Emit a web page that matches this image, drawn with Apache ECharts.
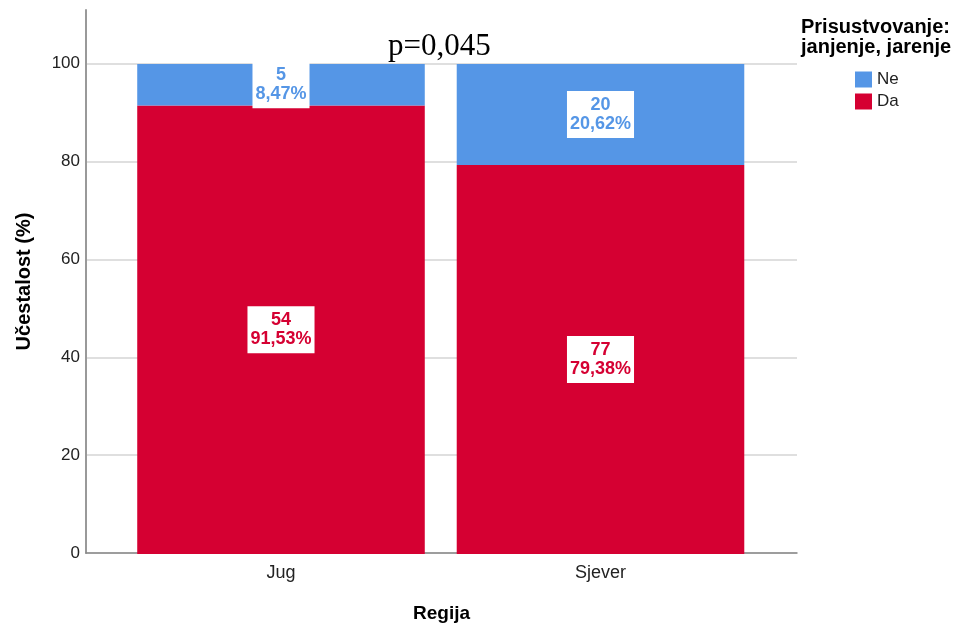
<!DOCTYPE html>
<html>
<head>
<meta charset="utf-8">
<script src="https://cdn.jsdelivr.net/npm/echarts@6/dist/echarts.min.js"></script>
<style>html,body{margin:0;padding:0;background:#fff}#c{width:955px;height:628px}</style>
</head>
<body>
<div id="c"></div>
<script>
const categories = ['Jug', 'Sjever'];
const seriesNames = ['Ne', 'Da'];
const daCounts = [54, 77];
const neCounts = [5, 20];
const daPct = [91.53, 79.38];
const nePct = [8.47, 20.62];
const yTicks = [0, 20, 40, 60, 80, 100];

const BLUE = '#5596E6';
const RED = '#D50032';
const FONT = '"Liberation Sans", Arial, sans-serif';

function fmt(v) { return v.toFixed(2).replace('.', ','); }

function labelCfg(color, counts, pcts) {
  return {
    show: true,
    position: 'inside',
    formatter: p => counts[p.dataIndex] + '\n' + fmt(pcts[p.dataIndex]) + '%',
    color: color,
    fontFamily: FONT,
    fontWeight: 'bold',
    fontSize: 18,
    lineHeight: 19,
    backgroundColor: '#ffffff',
    padding: [5, 3, 4, 3],
    align: 'center'
  };
}

const chart = echarts.init(document.getElementById('c'), null, { renderer: 'canvas' });
chart.setOption({
  animation: false,
  backgroundColor: '#ffffff',
  title: [
    {
      text: 'p=0,045',
      left: 388, top: 31, padding: 0,
      textStyle: { fontFamily: '"Liberation Serif", "Times New Roman", serif', fontSize: 31, fontWeight: 'normal', color: '#000' }
    },
    {
      text: 'Prisustvovanje:\njanjenje, jarenje',
      left: 801, top: 17, padding: 0,
      textStyle: { fontFamily: FONT, fontSize: 20, fontWeight: 'bold', color: '#000', lineHeight: 20 }
    }
  ],
  legend: {
    data: seriesNames,
    orient: 'vertical',
    left: 850, top: 66,
    itemWidth: 17, itemHeight: 16, itemGap: 5,
    icon: 'rect',
    textStyle: { fontFamily: FONT, fontSize: 17, lineHeight: 17, color: '#222' }
  },
  grid: [
    { left: 86, right: 158, top: 10, bottom: 74, containLabel: false },
    { left: 121.25, right: 194.75, top: 10, bottom: 74, containLabel: false }
  ],
  xAxis: [
    {
      type: 'value', gridIndex: 0, min: 0, max: 1,
      name: 'Regija',
      nameLocation: 'middle',
      nameGap: 51,
      nameTextStyle: { fontFamily: FONT, fontSize: 19, fontWeight: 'bold', color: '#000' },
      axisLine: { show: true, onZero: false, lineStyle: { color: '#888', width: 1.5 } },
      axisTick: { show: false },
      axisLabel: { show: false },
      splitLine: { show: false }
    },
    {
      type: 'category', gridIndex: 1,
      data: categories,
      axisLine: { show: false },
      axisTick: { show: false },
      axisLabel: { fontFamily: FONT, fontSize: 18, color: '#222', margin: 10 },
      splitLine: { show: false }
    }
  ],
  yAxis: [
    {
      type: 'value', gridIndex: 0,
      min: 0, max: 111, interval: 20,
      name: 'Učestalost (%)',
      nameLocation: 'middle',
      nameGap: 52,
      nameTextStyle: { fontFamily: FONT, fontSize: 20, fontWeight: 'bold', color: '#000' },
      axisLine: { show: true, lineStyle: { color: '#999', width: 2 } },
      axisTick: { show: false },
      axisLabel: {
        fontFamily: FONT, fontSize: 17, color: '#222', margin: 6,
        showMaxLabel: false,
        formatter: v => (yTicks.indexOf(v) >= 0 ? String(v) : '')
      },
      splitLine: { show: true, showMaxLine: false, lineStyle: { color: '#d4d4d4', width: 1.5 } }
    },
    {
      type: 'value', gridIndex: 1,
      min: 0, max: 111, interval: 20,
      show: false,
      splitLine: { show: false }
    }
  ],
  series: [
    {
      name: 'Da', type: 'bar', stack: 'total', data: daPct,
      xAxisIndex: 1, yAxisIndex: 1,
      barWidth: '90%',
      itemStyle: { color: RED },
      label: labelCfg(RED, daCounts, daPct)
    },
    {
      name: 'Ne', type: 'bar', stack: 'total', data: nePct,
      xAxisIndex: 1, yAxisIndex: 1,
      barWidth: '90%',
      itemStyle: { color: BLUE },
      label: labelCfg(BLUE, neCounts, nePct)
    }
  ]
});
</script>
</body>
</html>
